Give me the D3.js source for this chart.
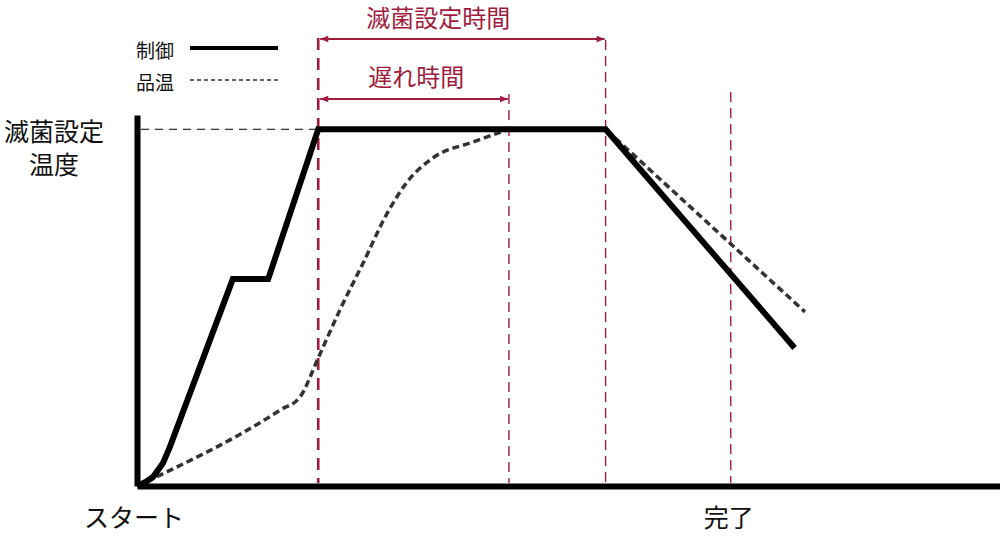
<!DOCTYPE html>
<html>
<head>
<meta charset="utf-8">
<script src="https://cdn.jsdelivr.net/npm/d3@7"></script>
<style>
  body { margin: 0; background: #fff; }
  text { font-family: "Noto Sans CJK JP", "Noto Sans", sans-serif; }
</style>
</head>
<body>
<div id="chart"></div>
<script>
// time axis in arbitrary units (0-100), temperature as % of the set temperature
const controlTemp = [
  { t: 0, v: 0 }, { t: 1.0, v: 1.1 }, { t: 1.85, v: 2.5 }, { t: 3.0, v: 6.4 },
  { t: 3.8, v: 10.9 }, { t: 11.1, v: 58 }, { t: 15.2, v: 58 },
  { t: 21.0, v: 100 }, { t: 54.3, v: 100 }, { t: 76.2, v: 38.7 }
];

// product temperature: slow rise (smooth), then hold and cool-down (straight)
const productRise = [
  { t: 0, v: 0 }, { t: 16.6, v: 21.3 }, { t: 18.9, v: 25.0 }, { t: 21.0, v: 35.9 },
  { t: 23.5, v: 49.3 }, { t: 26.2, v: 62.5 }, { t: 29.0, v: 76.5 },
  { t: 31.3, v: 85.2 }, { t: 34.3, v: 92.0 }, { t: 38.9, v: 96.4 },
  { t: 43.1, v: 100 }
];
const productHold = [
  { t: 43.1, v: 100 }, { t: 54.3, v: 100 }, { t: 77.4, v: 48.8 }
];

const setTemp = 100;
const markerTimes = [21.0, 43.1, 54.3, 68.8];
const spans = [
  { label: "滅菌設定時間", from: 21.0, to: 54.3 },
  { label: "遅れ時間", from: 21.0, to: 43.1 }
];
const phaseLabels = [
  { label: "スタート", t: 0 },
  { label: "完了", t: 68.8 }
];
const yLabelLines = ["滅菌設定", "温度"];
const legendItems = ["制御", "品温"];

const width = 1000, height = 556;
const accent = "#a01c3c";

const svg = d3.select("#chart").append("svg")
  .attr("width", width)
  .attr("height", height);

const x = d3.scaleLinear().domain([0, 100]).range([137, 1000]);
const y = d3.scaleLinear().domain([0, 104]).range([486, 115]);

// arrow head for the time spans
const defs = svg.append("defs");
["start", "end"].forEach(k => {
  defs.append("marker")
    .attr("id", "arrow-" + k)
    .attr("viewBox", "0 0 10 10")
    .attr("refX", k === "end" ? 10 : 0)
    .attr("refY", 5)
    .attr("markerWidth", 10)
    .attr("markerHeight", 8)
    .attr("markerUnits", "userSpaceOnUse")
    .attr("orient", "auto")
    .append("path")
    .attr("d", k === "end" ? "M0,1L10,5L0,9Z" : "M10,1L0,5L10,9Z")
    .attr("fill", accent);
});

// red vertical guides
const guideTop = { 21.0: 38, 54.3: 40, 43.1: 94, 68.8: 92 };
svg.selectAll(".guide")
  .data(markerTimes)
  .enter()
  .append("line")
  .attr("class", "guide")
  .attr("x1", d => x(d))
  .attr("x2", d => x(d))
  .attr("y1", d => guideTop[d])
  .attr("y2", y(0) - 3)
  .attr("stroke", accent)
  .attr("stroke-width", (d, i) => i === 0 ? 2.6 : 1.4)
  .attr("stroke-dasharray", (d, i) => i === 0 ? "12,8" : "10,6");

// span arrows + labels
const spanY = [39, 99];
const labelShift = [120, 98];
const labelY = [16, 75];
spans.forEach((s, i) => {
  svg.append("line")
    .attr("x1", x(s.from) + 2)
    .attr("x2", x(s.to) - 1)
    .attr("y1", spanY[i])
    .attr("y2", spanY[i])
    .attr("stroke", accent)
    .attr("stroke-width", 2)
    .attr("marker-start", "url(#arrow-start)")
    .attr("marker-end", "url(#arrow-end)");
  svg.append("text")
    .attr("x", x(s.from) + labelShift[i])
    .attr("y", labelY[i])
    .attr("text-anchor", "middle")
    .attr("dominant-baseline", "central")
    .attr("font-size", 24)
    .attr("fill", accent)
    .text(s.label);
});

// set temperature reference
svg.append("line")
  .attr("x1", x(0) + 4)
  .attr("x2", x(21.0) - 2)
  .attr("y1", y(setTemp))
  .attr("y2", y(setTemp))
  .attr("stroke", "#000")
  .attr("stroke-width", 1)
  .attr("stroke-dasharray", "8,6");

// axes without ticks
const xAxis = svg.append("g")
  .attr("transform", `translate(0,${y(0)})`)
  .call(d3.axisBottom(x).tickValues([]).tickSizeOuter(0));
const yAxis = svg.append("g")
  .attr("transform", `translate(${x(0)},0)`)
  .call(d3.axisLeft(y).tickValues([]).tickSizeOuter(0));
[xAxis, yAxis].forEach(g => g.select(".domain")
  .attr("stroke", "#000")
  .attr("stroke-width", 6));

const line = d3.line().x(d => x(d.t)).y(d => y(d.v));

// product temperature
[[productRise, d3.curveMonotoneX], [productHold, d3.curveLinear]].forEach(([data, curve]) => {
  svg.append("path")
    .datum(data)
    .attr("fill", "none")
    .attr("stroke", "#333")
    .attr("stroke-width", 3.5)
    .attr("stroke-dasharray", "7,4")
    .attr("d", line.curve(curve));
});

// control temperature
svg.append("path")
  .datum(controlTemp)
  .attr("fill", "none")
  .attr("stroke", "#000")
  .attr("stroke-width", 6)
  .attr("stroke-linejoin", "miter")
  .attr("d", line.curve(d3.curveLinear));

// y label
svg.selectAll(".ylab")
  .data(yLabelLines)
  .enter()
  .append("text")
  .attr("x", 54)
  .attr("y", (d, i) => 130 + i * 33)
  .attr("text-anchor", "middle")
  .attr("dominant-baseline", "central")
  .attr("font-size", 25)
  .attr("fill", "#111")
  .text(d => d);

// phase labels under the axis
svg.selectAll(".phase")
  .data(phaseLabels)
  .enter()
  .append("text")
  .attr("x", d => x(d.t) + (d.t === 0 ? -3 : -2))
  .attr("y", 516)
  .attr("text-anchor", "middle")
  .attr("dominant-baseline", "central")
  .attr("font-size", 25)
  .attr("fill", "#111")
  .text(d => d.label);

// legend
const legend = svg.append("g");
legendItems.forEach((name, i) => {
  const ly = 48 + i * 32;
  legend.append("text")
    .attr("x", 136)
    .attr("y", ly + 1)
    .attr("dominant-baseline", "central")
    .attr("font-size", 19)
    .attr("fill", "#111")
    .text(name);
  legend.append("line")
    .attr("x1", 190)
    .attr("x2", 278)
    .attr("y1", ly)
    .attr("y2", ly)
    .attr("stroke", i === 0 ? "#000" : "#333")
    .attr("stroke-width", i === 0 ? 4 : 1.5)
    .attr("stroke-dasharray", i === 0 ? null : "4,3");
});
</script>
</body>
</html>
